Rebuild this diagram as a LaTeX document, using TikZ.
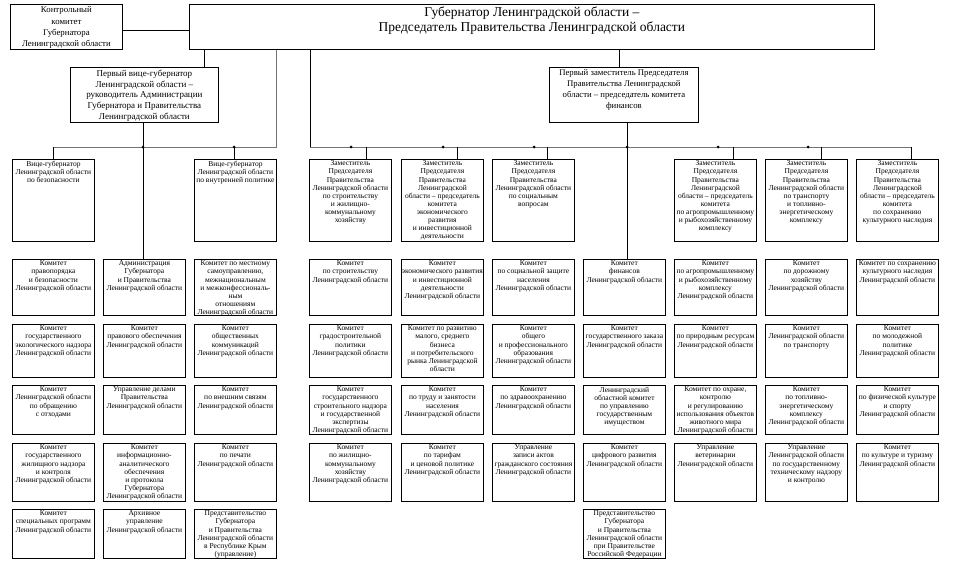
\documentclass[tikz,border=0pt]{standalone}
\usepackage{fontspec}
\setmainfont{Liberation Serif}
\colorlet{busc}{black!55}
\colorlet{linec}{black}

\begin{document}
\begin{tikzpicture}[x=1pt, y=-1pt,
  orgbox/.style n args={3}{draw=linec, line width=0.8pt, inner sep=0pt, anchor=north west,
    execute at begin node={\begin{minipage}[t][#2][t]{#1}\vspace*{#3}\centering},
    execute at end node={\end{minipage}}},
  headbox/.style n args={2}{orgbox={#1}{#2}{2.5pt}},
  unitbox/.style={orgbox={82pt}{#1}{1.5pt}, font=\fontsize{7.5}{8.1}\selectfont},
  link/.style={linec, line width=0.8pt},
  bus/.style={busc, line width=1pt}]
\useasboundingbox (0,0) rectangle (953,565);

% head of the region
\node[headbox={112pt}{45pt}, font=\fontsize{8.8}{11.3}\selectfont] (ctrl) at (10,4) {Контрольный\\комитет\\Губернатора\\Ленинградской области};
\node[headbox={685pt}{45pt}, font=\fontsize{13.5}{15.3}\selectfont] (gov) at (189,4) {Губернатор Ленинградской области –\\Председатель Правительства Ленинградской области};
\node[headbox={148pt}{55pt}, font=\fontsize{9}{10.8}\selectfont] (fvice) at (70,67) {Первый вице-губернатор\\Ленинградской области –\\руководитель Администрации\\Губернатора и Правительства\\Ленинградской области};
\node[headbox={149pt}{55pt}, font=\fontsize{8.7}{11}\selectfont] (fdep) at (549,67) {Первый заместитель Председателя\\Правительства Ленинградской\\области – председатель комитета\\финансов};

% vice-governors and deputies
\node[unitbox=82pt] (vg1) at (12,159) {Вице-губернатор\\Ленинградской области\\по безопасности};
\node[unitbox=82pt] (vg2) at (194,159) {Вице-губернатор\\Ленинградской области\\по внутренней политике};
\node[unitbox=82pt] (dep1) at (309,159) {Заместитель\\Председателя\\Правительства\\Ленинградской области\\по строительству\\и жилищно-\\коммунальному\\хозяйству};
\node[unitbox=82pt] (dep2) at (401,159) {Заместитель\\Председателя\\Правительства\\Ленинградской\\области – председатель\\комитета\\экономического\\развития\\и инвестиционной\\деятельности};
\node[unitbox=82pt] (dep3) at (492,159) {Заместитель\\Председателя\\Правительства\\Ленинградской области\\по социальным\\вопросам};
\node[unitbox=82pt] (dep4) at (674,159) {Заместитель\\Председателя\\Правительства\\Ленинградской\\области – председатель\\комитета\\по агропромышленному\\и рыбохозяйственному\\комплексу};
\node[unitbox=82pt] (dep5) at (765,159) {Заместитель\\Председателя\\Правительства\\Ленинградской области\\по транспорту\\и топливно-\\энергетическому\\комплексу};
\node[unitbox=82pt] (dep6) at (856,159) {Заместитель\\Председателя\\Правительства\\Ленинградской\\области – председатель\\комитета\\по сохранению\\культурного наследия};

% committees, column by column
\node[unitbox=56pt] (k1a) at (12,259) {Комитет\\правопорядка\\и безопасности\\Ленинградской области};
\node[unitbox=53pt] (k1b) at (12,324) {Комитет\\государственного\\экологического надзора\\Ленинградской области};
\node[unitbox=49pt] (k1c) at (12,385) {Комитет\\Ленинградской области\\по обращению\\с отходами};
\node[unitbox=58pt] (k1d) at (12,443) {Комитет\\государственного\\жилищного надзора\\и контроля\\Ленинградской области};
\node[unitbox=49pt] (k1e) at (12,509) {Комитет\\специальных программ\\Ленинградской области};

\node[unitbox=56pt] (adm) at (103,259) {Администрация\\Губернатора\\и Правительства\\Ленинградской области};
\node[unitbox=53pt] (k2b) at (103,324) {Комитет\\правового обеспечения\\Ленинградской области};
\node[unitbox=49pt] (k2c) at (103,385) {Управление делами\\Правительства\\Ленинградской области};
\node[unitbox=58pt] (k2d) at (103,443) {Комитет\\информационно-\\аналитического\\обеспечения\\и протокола\\Губернатора\\Ленинградской области};
\node[unitbox=49pt] (k2e) at (103,509) {Архивное\\управление\\Ленинградской области};

\node[unitbox=56pt] (k3a) at (194,259) {Комитет по местному\\самоуправлению,\\межнациональным\\и межконфессиональ-\\ным\\отношениям\\Ленинградской области};
\node[unitbox=53pt] (k3b) at (194,324) {Комитет\\общественных\\коммуникаций\\Ленинградской области};
\node[unitbox=49pt] (k3c) at (194,385) {Комитет\\по внешним связям\\Ленинградской области};
\node[unitbox=58pt] (k3d) at (194,443) {Комитет\\по печати\\Ленинградской области};
\node[unitbox=49pt] (k3e) at (194,509) {Представительство\\Губернатора\\и Правительства\\Ленинградской области\\в Республике Крым\\(управление)};

\node[unitbox=56pt] (k4a) at (309,259) {Комитет\\по строительству\\Ленинградской области};
\node[unitbox=53pt] (k4b) at (309,324) {Комитет\\градостроительной\\политики\\Ленинградской области};
\node[unitbox=49pt] (k4c) at (309,385) {Комитет\\государственного\\строительного надзора\\и государственной\\экспертизы\\Ленинградской области};
\node[unitbox=58pt] (k4d) at (309,443) {Комитет\\по жилищно-\\коммунальному\\хозяйству\\Ленинградской области};

\node[unitbox=56pt] (k5a) at (401,259) {Комитет\\экономического развития\\и инвестиционной\\деятельности\\Ленинградской области};
\node[unitbox=53pt] (k5b) at (401,324) {Комитет по развитию\\малого, среднего\\бизнеса\\и потребительского\\рынка Ленинградской\\области};
\node[unitbox=49pt] (k5c) at (401,385) {Комитет\\по труду и занятости\\населения\\Ленинградской области};
\node[unitbox=58pt] (k5d) at (401,443) {Комитет\\по тарифам\\и ценовой политике\\Ленинградской области};

\node[unitbox=56pt] (k6a) at (492,259) {Комитет\\по социальной защите\\населения\\Ленинградской области};
\node[unitbox=53pt] (k6b) at (492,324) {Комитет\\общего\\и профессионального\\образования\\Ленинградской области};
\node[unitbox=49pt] (k6c) at (492,385) {Комитет\\по здравоохранению\\Ленинградской области};
\node[unitbox=58pt] (k6d) at (492,443) {Управление\\записи актов\\гражданского состояния\\Ленинградской области};

\node[unitbox=56pt] (fin) at (583,259) {Комитет\\финансов\\Ленинградской области};
\node[unitbox=53pt] (k7b) at (583,324) {Комитет\\государственного заказа\\Ленинградской области};
\node[unitbox=49pt] (k7c) at (583,385) {Ленинградский\\областной комитет\\по управлению\\государственным\\имуществом};
\node[unitbox=58pt] (k7d) at (583,443) {Комитет\\цифрового развития\\Ленинградской области};
\node[unitbox=49pt] (k7e) at (583,509) {Представительство\\Губернатора\\и Правительства\\Ленинградской области\\при Правительстве\\Российской Федерации};

\node[unitbox=56pt] (k8a) at (674,259) {Комитет\\по агропромышленному\\и рыбохозяйственному\\комплексу\\Ленинградской области};
\node[unitbox=53pt] (k8b) at (674,324) {Комитет\\по природным ресурсам\\Ленинградской области};
\node[unitbox=49pt] (k8c) at (674,385) {Комитет по охране,\\контролю\\и регулированию\\использования объектов\\животного мира\\Ленинградской области};
\node[unitbox=58pt] (k8d) at (674,443) {Управление\\ветеринарии\\Ленинградской области};

\node[unitbox=56pt] (k9a) at (765,259) {Комитет\\по дорожному\\хозяйству\\Ленинградской области};
\node[unitbox=53pt] (k9b) at (765,324) {Комитет\\Ленинградской области\\по транспорту};
\node[unitbox=49pt] (k9c) at (765,385) {Комитет\\по топливно-\\энергетическому\\комплексу\\Ленинградской области};
\node[unitbox=58pt] (k9d) at (765,443) {Управление\\Ленинградской области\\по государственному\\техническому надзору\\и контролю};

\node[unitbox=56pt] (k10a) at (856,259) {Комитет по сохранению\\культурного наследия\\Ленинградской области};
\node[unitbox=53pt] (k10b) at (856,324) {Комитет\\по молодежной\\политике\\Ленинградской области};
\node[unitbox=49pt] (k10c) at (856,385) {Комитет\\по физической культуре\\и спорту\\Ленинградской области};
\node[unitbox=58pt] (k10d) at (856,443) {Комитет\\по культуре и туризму\\Ленинградской области};

% connectors
\draw[link] ([yshift=-3.5pt]ctrl.east) -- ([yshift=-3.5pt]gov.west);
\draw[link] (gov.south -| 204,0) -- (fvice.north -| 204,0);
\draw[bus] (gov.south -| 276,0) |- (vg1.north |- 0,147);
\draw[link] (vg1.north |- 0,147) -- (vg1.north);
\draw[link] (fvice.south -| 143,0) -- (adm.north -| 143,0);
\draw[link] (234,147) -- (vg2.north -| 234,0);
\fill[linec] (143,147) circle (1.5pt);
\fill[linec] (234,147) circle (1.5pt);

\draw[link] (gov.south -| 310,0) -- (310,147);
\draw[bus] (310,147) -- (911,147);
\draw[link] (gov.south -| 619,0) -- (fdep.north -| 619,0);
\draw[link] (fdep.south -| 627,0) -- (fin.north -| 627,0);
\draw[link] (366,147) -- (dep1.north -| 366,0);
\draw[link] (457,147) -- (dep2.north -| 457,0);
\draw[link] (547,147) -- (dep3.north -| 547,0);
\draw[link] (733,147) -- (dep4.north -| 733,0);
\draw[link] (821,147) -- (dep5.north -| 821,0);
\draw[link] (911,147) -- (dep6.north -| 911,0);
\fill[linec] (351,147) circle (1.5pt);
\fill[linec] (443,147) circle (1.5pt);
\fill[linec] (534,147) circle (1.5pt);
\fill[linec] (627,147) circle (1.5pt);
\fill[linec] (718,147) circle (1.5pt);
\fill[linec] (808,147) circle (1.5pt);
\end{tikzpicture}
\end{document}
